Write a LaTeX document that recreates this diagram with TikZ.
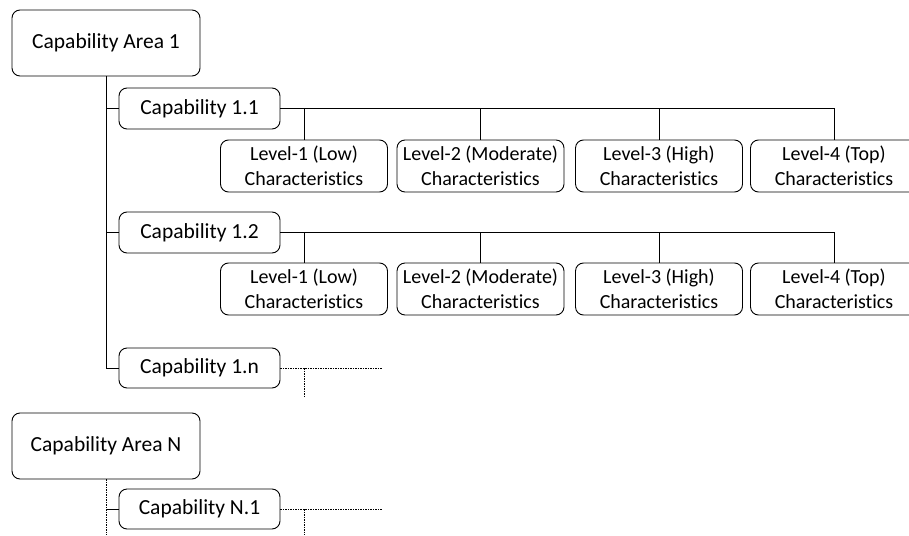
\documentclass[tikz,border=0pt]{standalone}
\usepackage{fontspec}
\setmainfont[Ligatures=NoCommon]{Carlito}
\usetikzlibrary{calc}

\tikzset{
	capbox/.style={draw, rounded corners=8pt, line width=0.9pt, align=center, inner sep=0pt, font=\fontsize{21.5}{26}\selectfont},
	lvlbox/.style={draw, rounded corners=8pt, line width=0.9pt, align=center, inner sep=0pt, minimum width=167pt, minimum height=52pt, font=\fontsize{20}{24.5}\selectfont},
	link/.style={line width=0.8pt},
	open/.style={line width=0.8pt, dash pattern=on 1.5pt off 1pt}
}

\begin{document}
\begin{tikzpicture}[x=1pt, y=-1pt]
	\useasboundingbox (0,0) rectangle (909,535);
	% capability areas and capabilities
	\node[capbox, minimum width=188pt, minimum height=66pt] (area1) at (106,43) {Capability Area 1};
	\node[capbox, minimum width=161pt, minimum height=41pt] (cap11) at (199.5,108.5) {Capability 1.1};
	\node[capbox, minimum width=161pt, minimum height=41pt] (cap12) at (199.5,232.5) {Capability 1.2};
	\node[capbox, minimum width=161pt, minimum height=40pt] (cap1n) at (199.5,368) {Capability 1.n};
	\node[capbox, minimum width=188pt, minimum height=66pt] (areaN) at (106,446) {Capability Area N};
	\node[capbox, minimum width=161pt, minimum height=40pt] (capN1) at (199.5,509) {Capability N.1};
	% levels
	\foreach \r/\y in {1/166, 2/289} {
		\node[lvlbox] (l\r1) at (304,\y) {Level-1 (Low)\\Characteristics};
		\node[lvlbox] (l\r2) at (480.5,\y) {Level-2 (Moderate)\\Characteristics};
		\node[lvlbox] (l\r3) at (659,\y) {Level-3 (High)\\Characteristics};
		\node[lvlbox] (l\r4) at (834,\y) {Level-4 (Top)\\Characteristics};
	}
	% tree lines
	\draw[link] (area1.south) |- (cap1n.west);
	\draw[link] (area1.south |- cap11.west) -- (cap11.west);
	\draw[link] (area1.south |- cap12.west) -- (cap12.west);
	\draw[link] (cap11.east) -| (l14.north);
	\draw[link] (cap12.east) -| (l24.north);
	\foreach \r/\c in {1/cap11, 2/cap12}
		\foreach \i in {1,2,3}
			\draw[link] (l\r\i.north) -- (l\r\i.north |- \c.east);
	% open ends
	\coordinate (e1n) at (382,368);
	\coordinate (d1n) at (304,397);
	\coordinate (eN1) at (382,509);
	\coordinate (dN1) at (304,535);
	\coordinate (dN) at (106,535);
	\draw[open] (cap1n.east) -- (e1n);
	\draw[open] (cap1n.east -| d1n) -- (d1n);
	\draw[open] (areaN.south) -- (dN);
	\draw[link] (areaN.south |- capN1.west) -- (capN1.west);
	\draw[open] (capN1.east) -- (eN1);
	\draw[open] (capN1.east -| dN1) -- (dN1);
\end{tikzpicture}
\end{document}
